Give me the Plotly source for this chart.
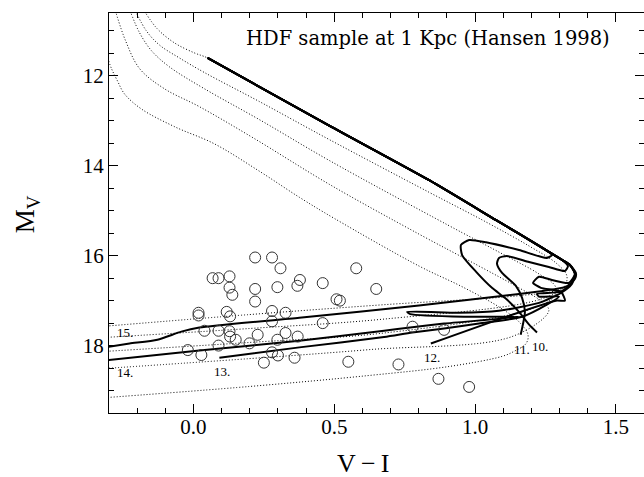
import plotly.graph_objects as go

# ---------------- data ----------------
# observed HDF objects (V-I, M_V)
obs_vi = [0.219, 0.279, 0.309, 0.578, 0.068, 0.089, 0.128, 0.128, 0.138, 0.219,
          0.298, 0.378, 0.369, 0.459, 0.649, 0.219, 0.508, 0.520, 0.018, 0.018,
          0.118, 0.130, 0.279, 0.327, 0.279, 0.459, 0.039, 0.089, 0.128, 0.130,
          0.150, 0.228, 0.199, 0.327, 0.370, 0.298, 0.089, 0.279, 0.300, 0.359,
          0.250, 0.550, 0.728, 0.778, 0.890, -0.020, 0.028, 0.870, 0.979]
obs_mv = [16.04, 16.04, 16.28, 16.28, 16.50, 16.50, 16.46, 16.71, 16.87, 16.74,
          16.70, 16.54, 16.67, 16.61, 16.74, 17.02, 16.97, 17.00, 17.27, 17.33,
          17.25, 17.35, 17.23, 17.27, 17.46, 17.50, 17.67, 17.67, 17.68, 17.80,
          17.87, 17.76, 17.95, 17.72, 17.80, 17.87, 18.00, 18.15, 18.22, 18.27,
          18.38, 18.36, 18.42, 17.58, 17.65, 18.10, 18.21, 18.74, 18.92]

# common bright part of the isochrones
upper_x = [0.050, 0.482, 0.837, 1.075, 1.252, 1.309]
upper_y = [11.60, 13.105, 14.32, 15.21, 15.874, 16.095]

# faint ends of the isochrones (after the common branch)
iso15_x = [1.337, 1.358, 1.355, 1.323, 1.245, 1.156, 0.801, 0.376, 0.021, -0.043, -0.128, -0.227, -0.316]
iso15_y = [16.206, 16.383, 16.516, 16.69, 16.78, 16.85, 17.11, 17.38, 17.60, 17.69, 17.87, 17.955, 18.04]
iso14_x = [1.337, 1.355, 1.344, 1.305, 1.227, 1.085, 0.943, 0.759, 0.770, 0.961, 1.156, 0.890, 0.777, 0.677, 0.376, 0.021, -0.316]
iso14_y = [16.206, 16.405, 16.63, 16.83, 17.05, 17.225, 17.27, 17.25, 17.30, 17.36, 17.36, 17.51, 17.59, 17.67, 17.89, 18.11, 18.33]
iso13_x = [1.337, 1.355, 1.340, 1.305, 1.220, 1.227, 1.298, 1.255, 1.167, 1.014, 0.890, 0.777, 0.677, 0.376, 0.092]
iso13_y = [16.206, 16.405, 16.63, 16.80, 16.85, 16.91, 16.91, 17.09, 17.36, 17.51, 17.62, 17.71, 17.81, 18.04, 18.27]
iso12_x = [1.337, 1.355, 1.333, 1.273, 1.227, 1.206, 1.234, 1.305, 1.319, 1.287, 0.843]
iso12_y = [16.206, 16.405, 16.605, 16.54, 16.47, 16.605, 16.715, 16.80, 17.00, 17.00, 17.955]
iso11_x = [1.330, 1.319, 1.262, 1.192, 1.113, 1.085, 1.078, 1.096, 1.145, 1.167, 1.177, 1.162]
iso11_y = [16.23, 16.34, 16.25, 16.14, 16.007, 16.05, 16.18, 16.383, 16.67, 16.94, 17.25, 17.76]
iso10_x = [1.273, 1.255, 1.156, 1.039, 0.979, 0.950, 0.954, 1.004, 1.060, 1.110, 1.156, 1.192, 1.220]
iso10_y = [15.985, 16.05, 15.874, 15.70, 15.65, 15.76, 15.985, 16.36, 16.715, 16.96, 17.25, 17.535, 17.71]
iso_ages = ["15.", "14.", "13.", "12.", "11.", "10."]
label_x = [-0.277, -0.277, 0.067, 0.812, 1.131, 1.195]
label_y = [17.70, 18.59, 18.575, 18.27, 18.09, 18.03]

# dotted cooling tracks
track_a_x = [-0.168, -0.128, -0.067, 0.004, 0.050, 0.482, 0.837, 1.075, 1.252, 1.309, 1.337, 1.358, 1.348, 1.298, 1.156, 0.677, 0.199, -0.316]
track_a_y = [10.618, 10.955, 11.267, 11.49, 11.60, 13.105, 14.32, 15.21, 15.874, 16.095, 16.206, 16.383, 16.58, 16.76, 16.89, 17.09, 17.31, 17.57]
track_b_x = [-0.201, -0.167, -0.121, -0.050, 0.039, 0.234, 0.482, 0.837, 1.039, 1.192, 1.291, 1.326, 1.316, 1.227, 0.677, 0.199, -0.316]
track_b_y = [10.618, 11.00, 11.311, 11.60, 11.925, 12.57, 13.415, 14.59, 15.25, 15.785, 16.18, 16.45, 16.69, 16.98, 17.41, 17.62, 17.82]
track_c_x = [-0.221, -0.191, -0.149, -0.085, 0.039, 0.234, 0.482, 0.904, 1.085, 1.227, 1.284, 1.287, 1.192, 0.677, 0.199, -0.316]
track_c_y = [10.618, 11.045, 11.44, 11.80, 12.286, 12.972, 13.88, 15.32, 15.92, 16.405, 16.67, 16.87, 17.20, 17.72, 17.93, 18.13]
track_d_x = [-0.274, -0.241, -0.191, -0.103, 0.021, 0.216, 0.482, 0.801, 1.014, 1.156, 1.238, 1.262, 1.131, 0.624, 0.199, -0.316]
track_d_y = [10.618, 11.22, 11.84, 12.286, 12.684, 13.393, 14.41, 15.52, 16.23, 16.715, 17.025, 17.225, 17.80, 18.09, 18.29, 18.51]
track_f_x = [-0.301, -0.291, -0.270, -0.245, -0.185, -0.067, 0.074, 0.234, 0.376, 0.500, 0.801, 0.954, 1.085, 1.156, 1.188, 1.181, 1.138, 1.096, 0.908, 0.624, 0.199, -0.316]
track_f_y = [11.67, 11.84, 12.11, 12.40, 12.735, 13.13, 13.51, 14.12, 14.70, 15.17, 16.23, 16.69, 17.14, 17.47, 17.76, 17.955, 18.13, 18.24, 18.465, 18.665, 18.91, 19.16]

x_ticks = [0.0, 0.5, 1.0, 1.5]
x_ticktext = ["0.0", "0.5", "1.0", "1.5"]
y_ticks = [12, 14, 16, 18]
y_ticktext = ["12", "14", "16", "18"]

# ---------------- figure ----------------
fig = go.Figure()

tracks = [(track_a_x, track_a_y), (track_b_x, track_b_y), (track_c_x, track_c_y),
          (track_d_x, track_d_y), (track_f_x, track_f_y)]
for tx, ty in tracks:
    fig.add_trace(go.Scatter(x=tx, y=ty, mode="lines",
                             line=dict(color="black", width=1, dash="1px,2px",
                                       shape="spline", smoothing=1.0),
                             hoverinfo="skip", showlegend=False))

isos = [(upper_x + iso15_x, upper_y + iso15_y),
        (upper_x + iso14_x, upper_y + iso14_y),
        (upper_x + iso13_x, upper_y + iso13_y),
        (upper_x + iso12_x, upper_y + iso12_y),
        (upper_x + iso11_x, upper_y + iso11_y),
        (upper_x[:5] + iso10_x, upper_y[:5] + iso10_y)]
for ix, iy in isos:
    fig.add_trace(go.Scatter(x=ix, y=iy, mode="lines",
                             line=dict(color="black", width=2, shape="spline", smoothing=0.6),
                             hoverinfo="skip", showlegend=False))

fig.add_trace(go.Scatter(x=obs_vi, y=obs_mv, mode="markers",
                         marker=dict(symbol="circle-open", size=11, color="#333333",
                                     line=dict(color="#333333", width=1)),
                         showlegend=False))

for txt, lx, ly in zip(iso_ages, label_x, label_y):
    fig.add_annotation(x=lx, y=ly, text=txt, showarrow=False, xanchor="left",
                       yanchor="middle",
                       font=dict(family="Liberation Serif", size=13, color="black"))

fig.add_annotation(xref="paper", yref="paper", x=0.940, y=0.9375,
                   text="HDF sample at 1 Kpc (Hansen 1998)", showarrow=False,
                   xanchor="right", yanchor="middle",
                   font=dict(family="DejaVu Serif", size=19.5, color="black"))
fig.add_annotation(xref="paper", yref="paper", x=0.475, y=-0.125,
                   text="V\u2009\u2212\u2009I", showarrow=False,
                   xanchor="center", yanchor="middle",
                   font=dict(family="Liberation Serif", size=26, color="black"))
fig.add_annotation(xref="paper", yref="paper", x=-0.153, y=0.4975,
                   text="M<sub>V</sub>", showarrow=False, textangle=-90,
                   xanchor="center", yanchor="middle",
                   font=dict(family="Liberation Serif", size=27, color="black"))

axis_common = dict(showline=True, linecolor="black", linewidth=1, mirror="allticks",
                   ticks="inside", ticklen=9, tickwidth=1, tickcolor="black",
                   showgrid=False, zeroline=False,
                   tickfont=dict(family="Liberation Serif", size=21, color="black"))
fig.update_xaxes(range=[-0.3, 1.6], tickvals=x_ticks, ticktext=x_ticktext,
                 ticklabelstandoff=-5,
                 minor=dict(dtick=0.1, tick0=0, ticks="inside", ticklen=5,
                            tickcolor="black", tickwidth=1, showgrid=False),
                 **axis_common)
fig.update_yaxes(range=[19.5, 10.6], tickvals=y_ticks, ticktext=y_ticktext,
                 minor=dict(dtick=0.5, tick0=0, ticks="inside", ticklen=5,
                            tickcolor="black", tickwidth=1, showgrid=False),
                 **axis_common)

fig.update_layout(width=644, height=477, margin=dict(l=109, r=0, t=13, b=64),
                  paper_bgcolor="white", plot_bgcolor="white", showlegend=False)

fig.write_html("out.html")
